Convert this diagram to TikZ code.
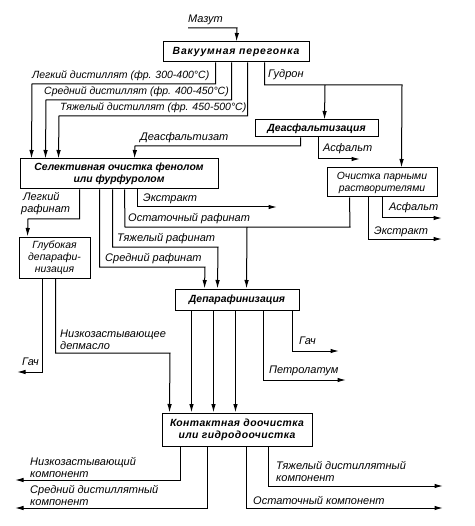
\documentclass[tikz,border=0pt]{standalone}
\usepackage{fontspec}
\setmainfont{Liberation Sans}
\usetikzlibrary{arrows.meta}
\begin{document}
\begin{tikzpicture}[x=1pt,y=-1pt,
  box/.style={draw, line width=1pt, inner sep=0pt, align=center, font=\bfseries\itshape\fontsize{10.4}{12}\selectfont},
  pbox/.style={box, font=\itshape\fontsize{10.4}{12}\selectfont},
  lbl/.style={font=\itshape\fontsize{11}{12}\selectfont, inner sep=0pt, anchor=base west, align=left},
  dlbl/.style={lbl, font=\itshape\fontsize{10.5}{12}\selectfont},
  ln/.style={line width=1pt},
  arr/.style={ln, -{Latex[length=8.5pt,width=4.5pt]}}]
\useasboundingbox (0,0) rectangle (474,526);
% boxes
\node[box, minimum width=146pt, minimum height=20pt] (vak) at (236,52) {\addfontfeature{LetterSpace=8}Вакуумная перегонка};
\node[box, minimum width=123pt, minimum height=17pt] (deasf) at (316.5,128.5) {Деасфальтизация};
\node[pbox, minimum width=110pt, minimum height=29pt] (ochp) at (382,182.5) {Очистка парными\\растворителями};
\node[box, minimum width=198pt, minimum height=30pt] (sel) at (119,174) {Селективная очистка фенолом\\или фурфуролом};
\node[pbox, minimum width=71pt, minimum height=41pt] (glub) at (54.5,257.5) {Глубокая\\депарафи-\\низация};
\node[box, minimum width=124pt, minimum height=21pt] (depar) at (237,299.5) {Депарафинизация};
\node[box, minimum width=150pt, minimum height=33pt] (kont) at (237,429.5) {\addfontfeature{LetterSpace=4}Контактная доочистка\\\addfontfeature{LetterSpace=4}или гидродоочистка};
% free ends
\coordinate (mazut) at (188,28);
\coordinate (asf1) at (360,159);
\coordinate (asf2) at (442,218);
\coordinate (ext2) at (442,239);
\coordinate (ext1) at (277,207);
\coordinate (gach1) at (17,372);
\coordinate (gach2) at (339,351);
\coordinate (petr) at (346,380);
\coordinate (nzk) at (15,480);
\coordinate (sdk) at (15,508);
\coordinate (tdk) at (443,486);
\coordinate (ostk) at (443,508);
\coordinate (gbr) at (325,85);
\coordinate (obr) at (247,227);
% labels
\node[lbl] (tmazut) at (188,23) {Мазут};
\node[dlbl] (tl1) at (32,79) {Легкий дистиллят (фр. 300-400°C)};
\node[dlbl] (tl2) at (44,95) {Средний дистиллят (фр. 400-450°C)};
\node[dlbl] (tl3) at (60,111) {Тяжелый дистиллят (фр. 450-500°C)};
\node[lbl] (tgudr) at (268,78) {Гудрон};
\node[lbl] (tdeas) at (140,141) {Деасфальтизат};
\node[lbl] (tasf1) at (323,152) {Асфальт};
\node[lbl] (tasf2) at (389,211) {Асфальт};
\node[lbl] (text2) at (374,234) {Экстракт};
\node[lbl, anchor=south west] (tlr) at (21,215) {\,Легкий\\рафинат};
\node[lbl] (text1) at (143,202) {Экстракт};
\node[lbl] (tost) at (128,222) {Остаточный рафинат};
\node[lbl] (ttr) at (117,241) {Тяжелый рафинат};
\node[lbl] (tsr) at (105,261) {Средний рафинат};
\node[lbl, anchor=south west] (tnzd) at (60,350) {Низкозастывающее\\депмасло};
\node[lbl] (tgach1) at (22,365) {Гач};
\node[lbl] (tgach2) at (299,344) {Гач};
\node[lbl] (tpetr) at (269,373) {Петролатум};
\node[lbl, anchor=south west] (tnzk) at (30,478) {Низкозастывающий\\компонент};
\node[lbl, anchor=south west] (tsdk) at (30,506) {Средний дистиллятный\\компонент};
\node[lbl, anchor=south west] (ttdk) at (276,482) {Тяжелый дистиллятный\\компонент};
\node[lbl] (tostk) at (253,504) {Остаточный компонент};
% connectors
\draw[arr] (mazut) -- (237,28) -- ([xshift=74pt]vak.north west);
\draw[arr] ([xshift=53pt]vak.south west) |- (32,84) -- ([xshift=12pt]sel.north west);
\draw[arr] ([xshift=69pt]vak.south west) |- (46,100) -- ([xshift=26pt]sel.north west);
\draw[arr] ([xshift=85pt]vak.south west) |- (59,116) -- ([xshift=39pt]sel.north west);
\draw[arr] ([xshift=102pt]vak.south west) |- (402,85) -- ([xshift=75pt]ochp.north west);
\draw[arr] (gbr) -- ([xshift=70pt]deasf.north west);
\draw[arr] ([xshift=46pt]deasf.south west) |- (135,146) -- ([xshift=115pt]sel.north west);
\draw[arr] ([xshift=64pt]deasf.south west) |- (asf1);
\draw[arr] ([xshift=56pt]ochp.south west) |- (asf2);
\draw[arr] ([xshift=42pt]ochp.south west) |- (ext2);
\draw[ln] ([xshift=105pt]sel.south west) -- (125,227) -- (350,227) -- ([xshift=23pt]ochp.south west);
\draw[arr] (obr) -- ([xshift=72pt]depar.north west);
\draw[arr] ([xshift=60pt]sel.south west) |- (28,219) -- ([xshift=9pt]glub.north west);
\draw[arr] ([xshift=80pt]sel.south west) |- (205,267) -- ([xshift=30pt]depar.north west);
\draw[arr] ([xshift=93pt]sel.south west) |- (218,247) -- ([xshift=43pt]depar.north west);
\draw[arr] ([xshift=118pt]sel.south west) |- (ext1);
\draw[arr] ([xshift=24pt]glub.south west) |- (gach1);
\draw[arr] ([xshift=37pt]glub.south west) |- (170,353) -- ([xshift=8pt]kont.north west);
\draw[arr] ([xshift=17pt]depar.south west) -- ([xshift=30pt]kont.north west);
\draw[arr] ([xshift=39pt]depar.south west) -- ([xshift=52pt]kont.north west);
\draw[arr] ([xshift=61pt]depar.south west) -- ([xshift=74pt]kont.north west);
\draw[arr] ([xshift=118pt]depar.south west) |- (gach2);
\draw[arr] ([xshift=89pt]depar.south west) |- (petr);
\draw[arr] ([xshift=19pt]kont.south west) |- (nzk);
\draw[arr] ([xshift=46pt]kont.south west) |- (sdk);
\draw[arr] ([xshift=107pt]kont.south west) |- (tdk);
\draw[arr] ([xshift=85pt]kont.south west) |- (ostk);
\end{tikzpicture}
\end{document}
